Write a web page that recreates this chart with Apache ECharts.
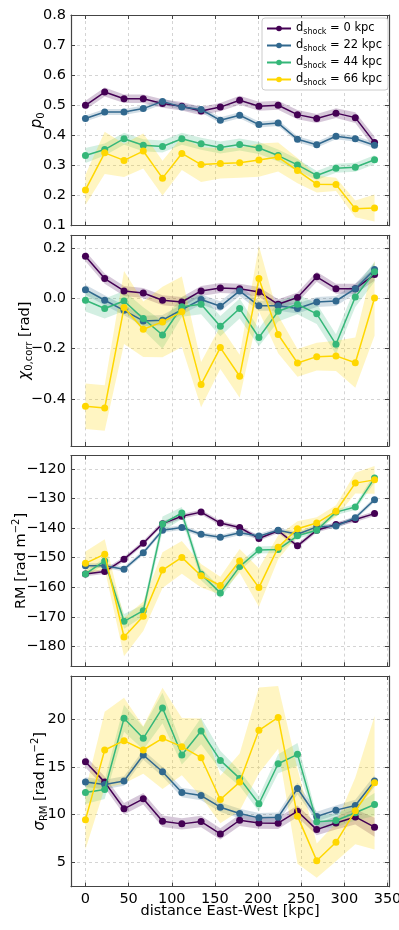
<!DOCTYPE html>
<html>
<head>
<meta charset="utf-8">
<script src="https://cdn.jsdelivr.net/npm/echarts@6/dist/echarts.min.js"></script>
<style>
  html, body { margin: 0; padding: 0; background: #fff; }
  #chart { width: 399px; height: 930px; }
</style>
</head>
<body>
<div id="chart"></div>
<script>
// distance East-West [kpc]
const distance = [0, 22.3, 44.7, 67, 89.3, 111.7, 134, 156.3, 178.7, 201, 223.3, 245.7, 268, 290.3, 312.7, 335];
const xTicks = [0, 50, 100, 150, 200, 250, 300, 350];
const shockNames = ['0', '22', '44', '66'];

// p0
const p0_0 = [0.50, 0.544, 0.522, 0.522, 0.506, 0.497, 0.481, 0.494, 0.517, 0.497, 0.50, 0.469, 0.456, 0.474, 0.459, 0.376];
const p0_22 = [0.456, 0.478, 0.478, 0.489, 0.513, 0.494, 0.486, 0.45, 0.467, 0.436, 0.441, 0.387, 0.369, 0.397, 0.389, 0.367];
const p0_44 = [0.333, 0.353, 0.389, 0.367, 0.363, 0.389, 0.372, 0.36, 0.37, 0.358, 0.333, 0.302, 0.267, 0.291, 0.294, 0.319];
const p0_66 = [0.219, 0.342, 0.317, 0.348, 0.258, 0.34, 0.303, 0.307, 0.309, 0.318, 0.328, 0.283, 0.238, 0.237, 0.156, 0.159];
const p0Err_0 = [0.015, 0.015, 0.014, 0.014, 0.014, 0.014, 0.014, 0.014, 0.015, 0.015, 0.015, 0.015, 0.015, 0.016, 0.018, 0.02];
const p0Err_22 = [0.01, 0.01, 0.01, 0.01, 0.01, 0.01, 0.01, 0.01, 0.01, 0.01, 0.01, 0.01, 0.01, 0.01, 0.01, 0.01];
const p0Err_44 = [0.025, 0.02, 0.02, 0.02, 0.02, 0.02, 0.02, 0.02, 0.02, 0.02, 0.02, 0.02, 0.015, 0.015, 0.015, 0.015];
const p0Err_66 = [0.05, 0.07, 0.055, 0.058, 0.058, 0.055, 0.058, 0.05, 0.05, 0.055, 0.048, 0.042, 0.028, 0.022, 0.028, 0.045];
const p0Ticks = [0.1, 0.2, 0.3, 0.4, 0.5, 0.6, 0.7, 0.8];

// chi_0,corr [rad]
const chi_0 = [0.167, 0.078, 0.029, 0.021, -0.008, -0.015, 0.029, 0.041, 0.038, 0.025, -0.024, 0.003, 0.085, 0.038, 0.038, 0.094];
const chi_22 = [0.034, -0.008, -0.048, -0.09, -0.087, -0.045, -0.005, -0.032, 0.029, -0.03, -0.03, -0.041, -0.015, -0.011, 0.038, 0.114];
const chi_44 = [-0.008, -0.041, -0.011, -0.081, -0.146, -0.034, -0.024, -0.111, -0.041, -0.156, -0.052, -0.024, -0.062, -0.183, 0.005, 0.105];
const chi_66 = [-0.429, -0.436, -0.037, -0.123, -0.094, -0.054, -0.343, -0.196, -0.31, 0.078, -0.144, -0.257, -0.232, -0.229, -0.256, 0.001];
const chiErr_0 = [0.02, 0.02, 0.02, 0.02, 0.02, 0.02, 0.02, 0.02, 0.02, 0.02, 0.02, 0.02, 0.02, 0.02, 0.02, 0.025];
const chiErr_22 = [0.02, 0.02, 0.02, 0.02, 0.02, 0.02, 0.02, 0.02, 0.02, 0.02, 0.02, 0.02, 0.02, 0.02, 0.02, 0.025];
const chiErr_44 = [0.045, 0.04, 0.04, 0.045, 0.055, 0.04, 0.04, 0.04, 0.04, 0.035, 0.04, 0.04, 0.04, 0.04, 0.04, 0.04];
const chiErr_66 = [0.09, 0.09, 0.145, 0.11, 0.14, 0.14, 0.09, 0.085, 0.085, 0.13, 0.075, 0.055, 0.055, 0.06, 0.1, 0.15];
const chiTicks = [-0.4, -0.2, 0, 0.2];

// RM [rad m^-2]
const rm_0 = [-155.5, -154.7, -150.5, -145.1, -138.5, -136.0, -134.6, -138.3, -139.8, -143.5, -140.9, -146.0, -140.7, -138.8, -137.1, -135.1];
const rm_22 = [-152.7, -152.7, -153.9, -148.3, -140.7, -139.8, -142.1, -143.1, -141.6, -142.7, -140.7, -142.1, -139.6, -139.3, -136.5, -130.4];
const rm_44 = [-155.5, -151.1, -171.5, -167.9, -138.6, -134.9, -155.6, -161.9, -153.0, -147.4, -147.2, -142.6, -140.7, -134.6, -132.9, -123.1];
const rm_66 = [-151.9, -148.8, -176.8, -169.8, -154.2, -149.9, -156.1, -159.4, -151.1, -160.1, -146.5, -140.2, -138.3, -134.3, -124.8, -123.7];
const rmErr_0 = [0.8, 0.8, 0.8, 0.8, 0.8, 0.8, 0.8, 0.8, 0.8, 0.8, 0.8, 0.8, 0.8, 0.8, 0.8, 0.8];
const rmErr_22 = [0.8, 0.8, 0.8, 0.8, 0.8, 0.8, 0.8, 0.8, 0.8, 0.8, 0.8, 0.8, 0.8, 0.8, 0.8, 0.8];
const rmErr_44 = [1, 1, 2.5, 2, 2.5, 2, 2, 1.8, 1.5, 1.2, 1.2, 1, 1, 1, 1, 1.5];
const rmErr_66 = [4, 5, 6.5, 5, 6, 5.5, 4, 3, 4, 6.5, 4, 2.5, 2, 2, 3.5, 4.7];
const rmTicks = [-180, -170, -160, -150, -140, -130, -120];

// sigma_RM [rad m^-2]
const sig_0 = [15.55, 13.41, 10.61, 11.66, 9.31, 9.03, 9.27, 7.98, 9.41, 9.13, 9.10, 10.36, 8.43, 9.13, 9.76, 8.68];
const sig_22 = [13.41, 13.17, 13.52, 16.25, 14.5, 12.32, 12.0, 10.78, 10.12, 9.66, 9.73, 12.74, 9.8, 10.47, 10.96, 13.52];
const sig_44 = [12.32, 12.64, 20.1, 18.0, 21.19, 16.25, 18.77, 15.69, 13.8, 11.14, 15.34, 16.32, 9.24, 9.38, 10.19, 11.06];
const sig_66 = [9.45, 16.78, 17.76, 16.78, 18.0, 17.13, 15.97, 11.59, 13.41, 18.84, 20.2, 9.84, 5.17, 7.1, 10.4, 13.34];
const sigErr_0 = [0.6, 0.6, 0.6, 0.6, 0.6, 0.6, 0.6, 0.6, 0.6, 0.6, 0.6, 0.6, 0.6, 0.7, 0.8, 1.0];
const sigErr_22 = [0.5, 0.5, 0.5, 0.5, 0.5, 0.5, 0.5, 0.5, 0.5, 0.5, 0.5, 0.6, 0.5, 0.5, 0.6, 0.6];
const sigErr_44 = [1.2, 1, 1.4, 1.2, 1.6, 1, 1.4, 1, 0.8, 0.8, 1, 1.2, 0.7, 0.7, 0.8, 1.2];
const sigErr_66 = [3.1, 4, 4.5, 2.5, 5.3, 3, 4.1, 2.5, 3, 4.5, 3.3, 5, 1.8, 2, 3.5, 7];
const sigTicks = [5, 10, 15, 20];

const colors = ['#440154', '#31688e', '#35b779', '#ffd700'];
const bandColors = ['rgba(68,1,84,0.22)', 'rgba(49,104,142,0.22)', 'rgba(53,183,121,0.22)', 'rgba(255,215,0,0.24)'];

const minus = (v, d) => (v < 0 ? '\u2212' : '') + Math.abs(v).toFixed(d);
const font = 'DejaVu Sans';
const spine = '#444';

const sub = { fontSize: 10, lineHeight: 10, padding: [9, 0, 0, 0], fontFamily: font, color: '#000' };
const sup = { fontSize: 10, lineHeight: 10, padding: [0, 0, 9, 0], fontFamily: font, color: '#000' };
const base = { fontSize: 14.5, lineHeight: 20, fontFamily: font, color: '#000' };
const ital = { fontSize: 15, lineHeight: 20, fontFamily: font, fontStyle: 'italic', color: '#000' };

const panels = [
  { vals: [p0_0, p0_22, p0_44, p0_66], errs: [p0Err_0, p0Err_22, p0Err_44, p0Err_66],
    min: 0.1, max: 0.8, ticks: p0Ticks, dec: 1, top: 15,
    name: '{i|p}{s|0}', gap: 24 },
  { vals: [chi_0, chi_22, chi_44, chi_66], errs: [chiErr_0, chiErr_22, chiErr_44, chiErr_66],
    min: -0.587, max: 0.25, ticks: chiTicks, dec: 1, top: 235.3,
    name: '{i|\u03c7}{s|0,corr}{b| [rad]}', gap: 36 },
  { vals: [rm_0, rm_22, rm_44, rm_66], errs: [rmErr_0, rmErr_22, rmErr_44, rmErr_66],
    min: -186.7, max: -115.5, ticks: rmTicks, dec: 0, top: 455.6,
    name: '{b|RM [rad m}{u|\u22122}{b|]}', gap: 40 },
  { vals: [sig_0, sig_22, sig_44, sig_66], errs: [sigErr_0, sigErr_22, sigErr_44, sigErr_66],
    min: 2.44, max: 24.54, ticks: sigTicks, dec: 0, top: 676,
    name: '{i|\u03c3}{s|RM}{b| [rad m}{u|\u22122}{b|]}', gap: 21 }
];

const grids = [];
const xAxes = [];
const yAxes = [];
const series = [];

panels.forEach((p, k) => {
  const last = k === panels.length - 1;
  grids.push({ left: 71, width: 318, top: p.top, height: 210.7, outerBoundsMode: 'none' });

  const tick = { show: true, inside: true, length: 4, lineStyle: { color: spine, width: 1 } };
  const line = { show: true, onZero: false, lineStyle: { color: spine, width: 1.2 } };
  const grid = { show: true, lineStyle: { color: '#d4d4d4', type: [3, 3], width: 1 } };

  xAxes.push({
    gridIndex: k, type: 'value', position: 'bottom', min: -16.75, max: 351.75,
    axisLine: line, axisTick: Object.assign({ customValues: xTicks }, tick),
    axisLabel: { show: last, customValues: xTicks, margin: 5, fontSize: 14.5, fontFamily: font, color: '#000' },
    splitLine: grid,
    name: last ? 'distance East-West [kpc]' : '',
    nameLocation: 'middle', nameGap: 17, nameMoveOverlap: false,
    nameTextStyle: { fontSize: 14.5, fontFamily: font, color: '#000' }
  });
  xAxes.push({
    gridIndex: k, type: 'value', position: 'top', min: -16.75, max: 351.75,
    axisLine: line, axisTick: Object.assign({ customValues: xTicks }, tick),
    axisLabel: { show: false }, splitLine: { show: false }
  });

  yAxes.push({
    gridIndex: k, type: 'value', position: 'left', min: p.min, max: p.max,
    axisLine: line, axisTick: Object.assign({ customValues: p.ticks }, tick),
    axisLabel: { customValues: p.ticks, margin: 5, fontSize: 14.5, fontFamily: font, color: '#000',
      formatter: (v) => minus(v, p.dec) },
    splitLine: grid,
    name: p.name, nameLocation: 'middle', nameRotate: 90, nameGap: p.gap, nameMoveOverlap: false,
    nameTextStyle: { rich: { i: ital, s: sub, b: base, u: sup } }
  });
  yAxes.push({
    gridIndex: k, type: 'value', position: 'right', min: p.min, max: p.max,
    axisLine: line, axisTick: Object.assign({ customValues: p.ticks }, tick),
    axisLabel: { show: false }, splitLine: { show: false }
  });

  // shaded bands: value +/- error, one polygon per series
  p.vals.forEach((v, s) => {
    const e = p.errs[s];
    series.push({
      type: 'custom', name: 'band', xAxisIndex: 2 * k, yAxisIndex: 2 * k,
      silent: true, z: 1,
      data: distance.map((x, i) => [x, v[i] - e[i], v[i] + e[i]]),
      encode: { x: 0, y: [1, 2] },
      renderItem: (params, api) => {
        if (params.dataIndex !== 0) return null;
        const upper = distance.map((x, i) => api.coord([x, v[i] + e[i]]));
        const lower = distance.map((x, i) => api.coord([x, v[i] - e[i]])).reverse();
        return {
          type: 'polygon',
          shape: { points: upper.concat(lower) },
          style: { fill: bandColors[s] }
        };
      }
    });
  });

  p.vals.forEach((v, s) => {
    series.push({
      type: 'line', name: shockNames[s], xAxisIndex: 2 * k, yAxisIndex: 2 * k,
      symbol: 'circle', symbolSize: 7, z: 3 + s,
      itemStyle: { color: colors[s] },
      lineStyle: { color: colors[s], width: 1.5 },
      data: distance.map((x, i) => [x, v[i]])
    });
  });
});

const chart = echarts.init(document.getElementById('chart'), null, { renderer: 'canvas', width: 399, height: 930 });
chart.setOption({
  animation: false,
  backgroundColor: '#fff',
  grid: grids,
  xAxis: xAxes,
  yAxis: yAxes,
  legend: {
    data: shockNames,
    orient: 'vertical',
    left: 262, top: 18,
    padding: [3, 6, 3, 4],
    itemGap: 2,
    itemWidth: 24, itemHeight: 7,
    backgroundColor: '#fff',
    borderColor: '#ccc', borderWidth: 1, borderRadius: 3,
    formatter: (n) => '{a|d}{s|shock}{a| = ' + n + ' kpc}',
    textStyle: {
      rich: {
        a: { fontSize: 11.5, lineHeight: 16, fontFamily: font, color: '#000' },
        s: { fontSize: 8, lineHeight: 8, padding: [7, 0, 0, 0], fontFamily: font, color: '#000' }
      }
    }
  },
  series: series
});
</script>
</body>
</html>
